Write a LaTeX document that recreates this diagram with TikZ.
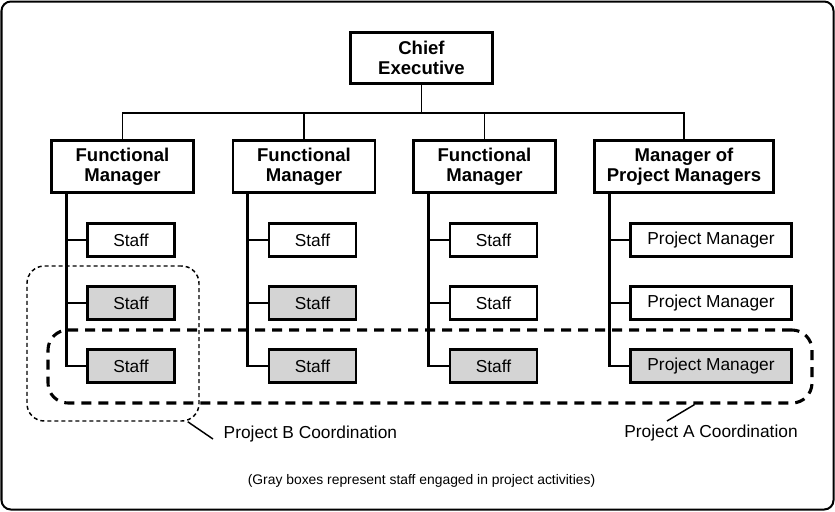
\documentclass[tikz,border=0pt]{standalone}
\usepackage{fontspec}
\setmainfont{Liberation Sans}
\definecolor{boxgray}{RGB}{212,212,212}
\tikzset{
  head/.style={draw, line width=2.2pt, font=\fontsize{13.9}{15}\selectfont\bfseries,
    align=center, minimum width=106.5pt, minimum height=39pt, inner sep=0pt},
  staffbox/.style={draw, line width=2.2pt, font=\fontsize{13}{15}\selectfont,
    minimum width=65.25pt, minimum height=24.75pt, inner sep=0pt},
  pmbox/.style={staffbox, minimum width=120.75pt},
  busline/.style={line width=1.1pt},
  trunk/.style={line width=2.2pt},
  projA/.style={draw, line width=2.3pt, dash pattern=on 7.5pt off 5.25pt,
    rounded corners=15pt, minimum width=573pt, minimum height=54.75pt},
  projB/.style={draw, line width=1.1pt, dash pattern=on 3pt off 2.25pt,
    rounded corners=13pt, minimum width=129pt, minimum height=116.25pt},
  leader/.style={line width=1.1pt},
  lab/.style={font=\fontsize{13}{15}\selectfont}
}
\begin{document}
\begin{tikzpicture}[x=0.75pt,y=-0.75pt]
     \useasboundingbox (0,0) rectangle (835,511);
     \draw[line width=1.5pt, rounded corners=7pt] (1.5,1.5) rectangle (833.5,509.5);

     % top
     \node[head, minimum height=38.25pt] (chief) at (421.5,58) {Chief\\Executive};
     \coordinate (bus) at (421.5,113);

     \node[head] (fm1) at (122.5,166.5) {Functional\\Manager};
     \node[head] (fm2) at (304,166.5) {Functional\\Manager};
     \node[head] (fm3) at (484.5,166.5) {Functional\\Manager};
     \node[head, minimum width=134.25pt] (fm4) at (684,166.5) {Manager of\\Project Managers};

     \draw[busline] (chief.south) -- (bus);
     \draw[busline] (fm1.north) -- (fm1.north |- bus) -- (fm4.north |- bus) -- (fm4.north);
     \draw[busline] (fm2.north) -- (fm2.north |- bus);
     \draw[busline] (fm3.north) -- (fm3.north |- bus);

     % column 1
     \node[staffbox] (s11) at (131,240) {Staff};
     \node[staffbox, fill=boxgray] (s12) at (131,303) {Staff};
     \node[staffbox, fill=boxgray] (s13) at (131,366) {Staff};
     \coordinate (t1) at ([xshift=12.4pt]fm1.south west);
     \draw[trunk] (t1) |- (s13.west);
     \draw[trunk] (s11.west) -- (s11.west -| t1);
     \draw[trunk] (s12.west) -- (s12.west -| t1);

     % column 2
     \node[staffbox] (s21) at (312.5,240) {Staff};
     \node[staffbox, fill=boxgray] (s22) at (312.5,303) {Staff};
     \node[staffbox, fill=boxgray] (s23) at (312.5,366) {Staff};
     \coordinate (t2) at ([xshift=12pt]fm2.south west);
     \draw[trunk] (t2) |- (s23.west);
     \draw[trunk] (s21.west) -- (s21.west -| t2);
     \draw[trunk] (s22.west) -- (s22.west -| t2);

     % column 3
     \node[staffbox] (s31) at (493.5,240) {Staff};
     \node[staffbox] (s32) at (493.5,303) {Staff};
     \node[staffbox, fill=boxgray] (s33) at (493.5,366) {Staff};
     \coordinate (t3) at ([xshift=12.4pt]fm3.south west);
     \draw[trunk] (t3) |- (s33.west);
     \draw[trunk] (s31.west) -- (s31.west -| t3);
     \draw[trunk] (s32.west) -- (s32.west -| t3);

     % column 4
     \node[pmbox] (p1) at (711,240) {Project Manager};
     \node[pmbox] (p2) at (711,303) {Project Manager};
     \node[pmbox, fill=boxgray] (p3) at (711,366) {Project Manager};
     \coordinate (t4) at ([xshift=12.4pt]fm4.south west);
     \draw[trunk] (t4) |- (p3.west);
     \draw[trunk] (p1.west) -- (p1.west -| t4);
     \draw[trunk] (p2.west) -- (p2.west -| t4);

     % coordination
     \node[projA] (grpA) at (430,366.5) {};
     \node[projB] (grpB) at (113,343.5) {};

     \node[lab, anchor=west] (labB) at (219,434) {Project B Coordination};
     \node[lab] (labA) at (711,433) {Project A Coordination};
     \draw[leader] ([xshift=-9pt]grpB.south east) -- ([xshift=-4.5pt,yshift=-3.75pt]labB.west);
     \draw[leader] ([xshift=-89.25pt]grpA.south east) -- ([xshift=-33pt,yshift=9pt]labA.center);

     \node[font=\fontsize{10.4}{12}\selectfont] (note) at (421.5,481)
       {(Gray boxes represent staff engaged in project activities)};
\end{tikzpicture}
\end{document}
